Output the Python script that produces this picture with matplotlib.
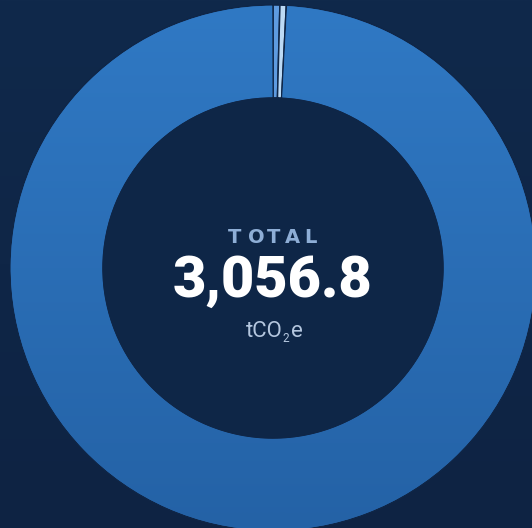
import matplotlib
matplotlib.use("Agg")
import matplotlib.pyplot as plt
import numpy as np
from matplotlib.patches import Wedge
from matplotlib.colors import LinearSegmentedColormap

# Data
categories = ["Category A", "Category B", "Category C"]
values = [12.8, 11.9, 3032.1]
colors = ["#5e9be0", "#bcdaf5", "#2c6db8"]
total_label = "3,056.8"
title_label = "TOTAL"
unit_main = "tCO"
unit_sub = "2"
unit_end = "e"

W, H = 532, 528
cx, cy = 273, 268
R, r = 263, 170
bg = "#0f2647"

fig = plt.figure(figsize=(W/100, H/100), dpi=100)
fig.patch.set_facecolor(bg)
ax = fig.add_axes([0, 0, 1, 1])
ax.set_xlim(-cx, W - cx)
ax.set_ylim(-(H - cy), cy)
ax.set_aspect('equal')
ax.axis('off')

# background gradient
grad = np.linspace(0, 1, 256).reshape(-1, 1)
bgcmap = LinearSegmentedColormap.from_list("bg", ["#10294b", "#0e2343"])
ax.imshow(grad, extent=(-cx, W - cx, -(H - cy), cy), cmap=bgcmap, aspect='auto', zorder=0, origin='upper')

total = sum(values)
start = 90.0
for v, c in zip(values, colors):
    span = 360.0 * v / total
    theta2 = start
    theta1 = start - span
    w = Wedge((0, 0), R, theta1, theta2, width=R - r, facecolor=c,
              edgecolor=bg, linewidth=1.1, zorder=2)
    ax.add_patch(w)
    if v == max(values):
        gcmap = LinearSegmentedColormap.from_list("g", ["#3079c4", "#2462a6"])
        im = ax.imshow(grad, extent=(-R, R, -R, R), cmap=gcmap, aspect='auto',
                       zorder=2.5, origin='upper')
        clip = Wedge((0, 0), R - 0.7, theta1 + 0.2, theta2 - 0.2, width=R - r - 1.4,
                     transform=ax.transData)
        im.set_clip_path(clip)
    start = theta1

hole = plt.Circle((0, 0), r, facecolor="#0e2647", edgecolor=bg, zorder=3)
ax.add_patch(hole)

# TOTAL with letter spacing
letter_x = [-45.5, -25, -6.5, 12, 31.5]
for ch, lx in zip(title_label, letter_x):
    ax.text(lx, 25, ch, ha='left', va='baseline', color="#8eaed6", fontsize=14,
            fontweight='bold', family='DejaVu Sans', zorder=5)

ax.text(0, -29, total_label, ha='center', va='baseline', color="white",
        fontsize=41.5, fontweight='heavy', family='Roboto', zorder=5)

ax.text(-27, -69, unit_main, ha='left', va='baseline', color="#b4c6de",
        fontsize=16, family='Roboto', zorder=5)
ax.text(9, -74, unit_sub, ha='left', va='baseline', color="#b4c6de",
        fontsize=8.5, family='Roboto', zorder=5)
ax.text(18, -69, unit_end, ha='left', va='baseline', color="#b4c6de",
        fontsize=16, family='Roboto', zorder=5)

fig.savefig("out.png", dpi=100, facecolor=bg)
